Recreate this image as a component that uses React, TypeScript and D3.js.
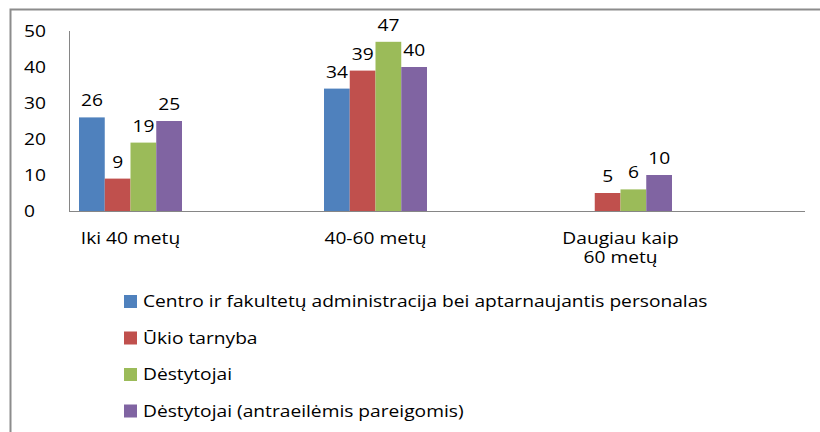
import React, { useEffect, useRef } from 'react';
import * as d3 from 'd3';

// age groups on the x axis (second line of a label after "|")
const categories = ['Iki 40 metų', '40-60 metų', 'Daugiau kaip|60 metų'];
const seriesNames = [
  'Centro ir fakultetų administracija bei aptarnaujantis personalas',
  'Ūkio tarnyba',
  'Dėstytojai',
  'Dėstytojai (antraeilėmis pareigomis)',
];
const seriesColors = ['#4f81bd', '#c0504d', '#9bbb59', '#8064a2'];
// one array per series, in category order (null = no bar)
const admin = [26, 34, null];
const ukio = [9, 39, 5];
const destytojai = [19, 47, 6];
const antraeiliai = [25, 40, 10];
const yTicks = [0, 10, 20, 30, 40, 50];

const FONT = '"Open Sans", sans-serif';
const STRETCH = 1.2; // original text is drawn wide

function App() {
  const ref = useRef<SVGSVGElement>(null);

  useEffect(() => {
    const svg = d3.select(ref.current);
    svg.selectAll('*').remove();

    const W = 820, H = 432;
    const series = [admin, ukio, destytojai, antraeiliai];
    const place = (x: number, y: number) => `translate(${x},${y}) scale(${STRETCH},1)`;

    // frame
    svg.append('path')
      .attr('d', `M10.5,${H} V9.5 H${W}`)
      .attr('fill', 'none')
      .attr('stroke', '#8c8c8c')
      .attr('stroke-width', 2);

    const y = d3.scaleLinear().domain([0, 50]).range([211, 31]);
    const x0 = d3.scaleBand().domain(categories).range([8, 743]);
    const groupW = 103;
    const x1 = d3.scaleBand()
      .domain(seriesNames)
      .range([(x0.bandwidth() - groupW) / 2, (x0.bandwidth() + groupW) / 2]);

    // axes lines
    svg.append('line')
      .attr('x1', 69.5).attr('x2', 69.5).attr('y1', 31).attr('y2', y(0))
      .attr('stroke', '#868686');
    svg.append('line')
      .attr('x1', 69).attr('x2', 805).attr('y1', y(0) + 0.5).attr('y2', y(0) + 0.5)
      .attr('stroke', '#868686');

    // y tick labels (left-aligned like the original)
    svg.append('g').selectAll('text')
      .data(yTicks)
      .enter().append('text')
      .attr('transform', d => place(24, y(d)))
      .attr('dy', '0.36em')
      .attr('font-family', FONT)
      .attr('font-size', 16)
      .attr('fill', '#000')
      .text(d => d);

    // bars
    const groups = svg.append('g').selectAll('g')
      .data(categories)
      .enter().append('g')
      .attr('transform', d => 'translate(' + x0(d) + ',0)');

    groups.selectAll('rect')
      .data((c, ci) => seriesNames.map((s, si) => ({ key: s, value: series[si][ci], color: seriesColors[si] })))
      .enter().append('rect')
      .filter(d => d.value != null)
      .attr('x', d => x1(d.key)!)
      .attr('y', d => y(d.value as number))
      .attr('width', x1.bandwidth())
      .attr('height', d => y(0) - y(d.value as number))
      .attr('fill', d => d.color);

    groups.selectAll('text.val')
      .data((c, ci) => seriesNames.map((s, si) => ({ key: s, value: series[si][ci] })))
      .enter().append('text')
      .filter(d => d.value != null)
      .attr('class', 'val')
      .attr('transform', d => place(x1(d.key)! + x1.bandwidth() / 2, y(d.value as number) - 11))
      .attr('text-anchor', 'middle')
      .attr('font-family', FONT)
      .attr('font-size', 16)
      .attr('fill', '#000')
      .text(d => d.value as number);

    // category labels
    const catLabels = svg.append('g').selectAll('text')
      .data(categories)
      .enter().append('text')
      .attr('transform', d => place(x0(d)! + x0.bandwidth() / 2, 244))
      .attr('text-anchor', 'middle')
      .attr('font-family', FONT)
      .attr('font-size', 16)
      .attr('fill', '#000');
    catLabels.selectAll('tspan')
      .data(d => d.split('|'))
      .enter().append('tspan')
      .attr('x', 0)
      .attr('dy', (d, i) => (i === 0 ? 0 : 19))
      .text(d => d);

    // legend
    const legend = svg.append('g').selectAll('g')
      .data(seriesNames)
      .enter().append('g')
      .attr('transform', (d, i) => 'translate(124,' + (295 + i * 36.5) + ')');
    legend.append('rect')
      .attr('width', 13).attr('height', 13)
      .attr('fill', (d, i) => seriesColors[i]);
    legend.append('text')
      .attr('transform', place(19, 6.5))
      .attr('dy', '0.36em')
      .attr('font-family', FONT)
      .attr('font-size', 16)
      .attr('fill', '#000')
      .text(d => d);
  }, []);

  return (
    <svg ref={ref} width={820} height={432}
      style={{ position: 'absolute', left: 0, top: 0, background: '#fff' }} />
  );
}

export default App;
